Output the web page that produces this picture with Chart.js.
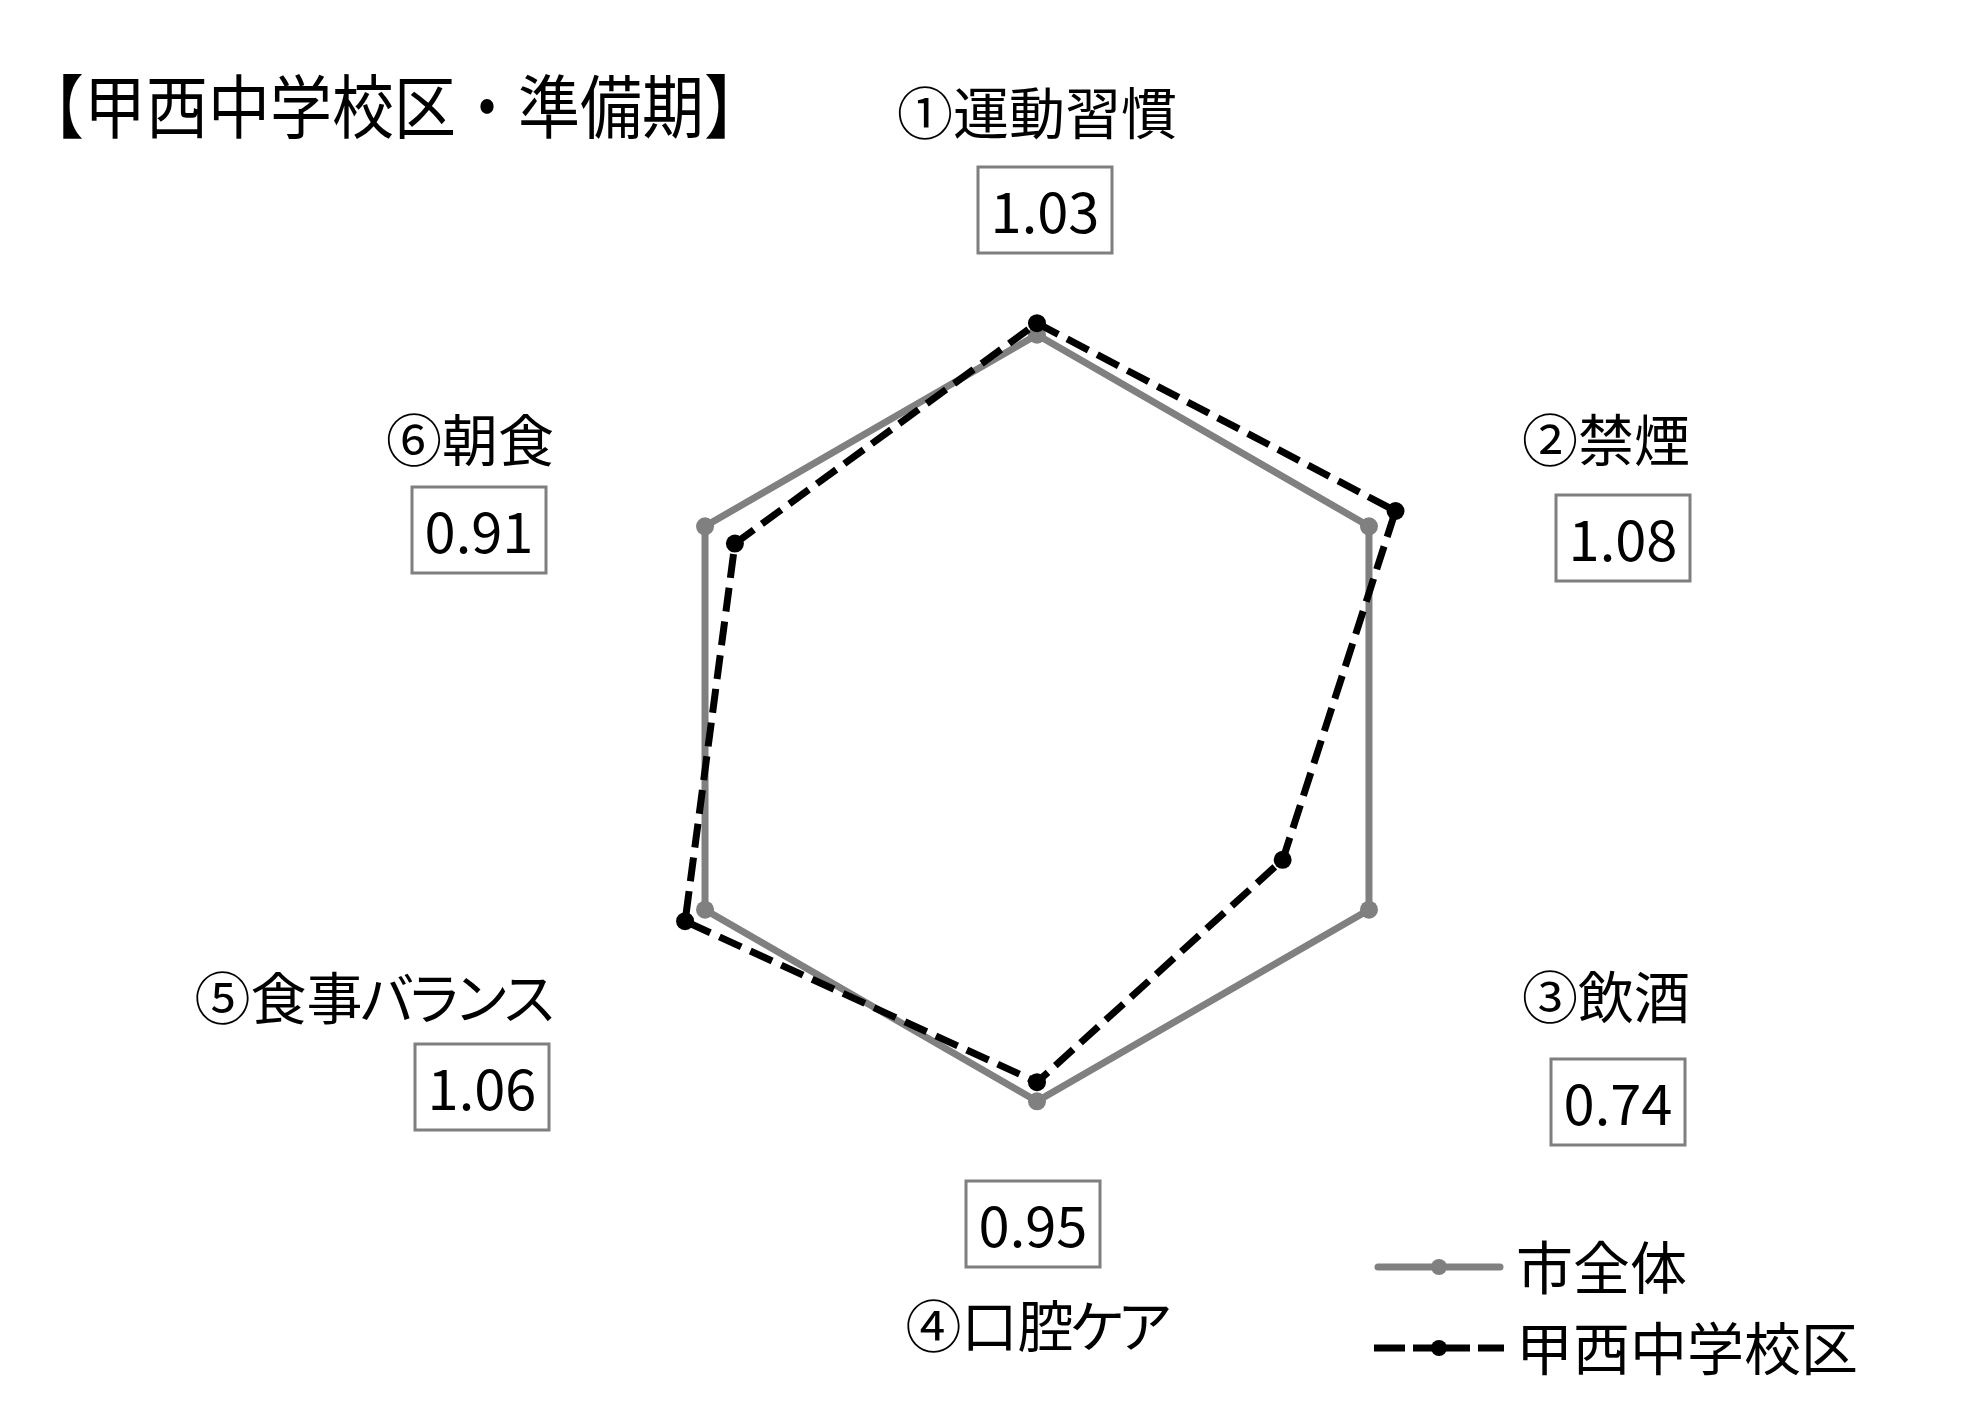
<!DOCTYPE html>
<html><head><meta charset="utf-8">
<script src="https://cdn.jsdelivr.net/npm/chart.js@4.4.0/dist/chart.umd.min.js"></script>
<style>html,body{margin:0;padding:0;background:#fff;overflow:hidden;} canvas{display:block;}</style>
</head><body>
<canvas id="c" width="1961" height="1417"></canvas>
<script>
// ---- data ----
const chartTitle = '【甲西中学校区・準備期】';
const categories = ['①運動習慣', '②禁煙', '③飲酒', '④口腔ケア', '⑤食事バランス', '⑥朝食'];
const seriesNames = ['市全体', '甲西中学校区'];
const cityValues = [1.00, 1.00, 1.00, 1.00, 1.00, 1.00];
const schoolValues = [1.03, 1.08, 0.74, 0.95, 1.06, 0.91];
const scaleMin = 0;
const scaleMax = 1.2;

// ---- layout (offsets relative to radar centre) ----
const labelLayout = [
  {lx: 0,    ly: -605, align: 'center', bx: 8,    by: -508},
  {lx: 485,  ly: -278, align: 'left',   bx: 586,  by: -180},
  {lx: 485,  ly: 279,  align: 'left',   bx: 581,  by: 384},
  {lx: 0,    ly: 608,  align: 'center', bx: -4,   by: 506},
  {lx: -484, ly: 280,  align: 'right',  bx: -555, by: 369},
  {lx: -483, ly: -278, align: 'right',  bx: -558, by: -188}
];
const FONT_JP = '"Noto Sans CJK JP", "Noto Sans", sans-serif';

function jpText(ctx, text, x, y, size, align, kana, vscale) {
  kana = kana || 0.85;
  vscale = vscale || 1;
  ctx.save();
  ctx.font = size + 'px ' + FONT_JP;
  const chars = Array.from(text);
  const adv = chars.map(ch => /[\u30A0-\u30FF]/.test(ch) ? size * kana : size);
  const total = adv.reduce((a, b) => a + b, 0);
  let sx = align === 'left' ? x : (align === 'right' ? x - total : x - total / 2);
  ctx.textAlign = 'center';
  ctx.textBaseline = 'middle';
  ctx.translate(0, y);
  ctx.scale(1, vscale);
  chars.forEach((ch, i) => { ctx.fillText(ch, sx + adv[i] / 2, 0); sx += adv[i]; });
  ctx.restore();
}

const overlay = {
  id: 'overlay',
  afterDraw(chart) {
    const ctx = chart.ctx;
    const sc = chart.scales.r;
    const cx = sc.xCenter, cy = sc.yCenter;
    ctx.save();
    ctx.fillStyle = '#000';
    // title
    jpText(ctx, chartTitle, 22, 107, 62, 'left', 1, 1.12);
    // category labels and value boxes
    categories.forEach((cat, i) => {
      const L = labelLayout[i];
      ctx.fillStyle = '#000';
      jpText(ctx, cat, cx + L.lx, cy + L.ly, 56, L.align);
      const bw = 134, bh = 86;
      const bxc = cx + L.bx, byc = cy + L.by;
      ctx.strokeStyle = '#7f7f7f';
      ctx.lineWidth = 3;
      ctx.setLineDash([]);
      ctx.strokeRect(bxc - bw / 2, byc - bh / 2, bw, bh);
      ctx.font = '56px ' + FONT_JP;
      ctx.textAlign = 'center';
      ctx.textBaseline = 'middle';
      ctx.fillStyle = '#000';
      ctx.fillText(schoolValues[i].toFixed(2), bxc, byc + 2);
    });
    // legend
    const ds = chart.data.datasets;
    const rows = [1267, 1348];
    const x0 = 1374, x1 = 1504, xm = 1439;
    [0, 1].forEach(k => {
      const d = ds[k];
      const y = rows[k];
      ctx.strokeStyle = d.borderColor;
      ctx.lineWidth = d.borderWidth;
      if (k === 0) {
        ctx.lineCap = 'round';
        ctx.beginPath(); ctx.moveTo(x0 + 4, y); ctx.lineTo(x1 - 4, y); ctx.stroke();
      } else {
        ctx.lineCap = 'butt';
        [[x0, 1405], [1413, 1470], [1478, x1]].forEach(s => {
          ctx.beginPath(); ctx.moveTo(s[0], y); ctx.lineTo(s[1], y); ctx.stroke();
        });
      }
      ctx.fillStyle = d.pointBackgroundColor;
      ctx.beginPath(); ctx.arc(xm, y, 8, 0, Math.PI * 2); ctx.fill();
      ctx.fillStyle = '#000';
      jpText(ctx, d.label, 1516, y, 57, 'left');
    });
    ctx.restore();
  }
};

new Chart(document.getElementById('c'), {
  type: 'radar',
  data: {
    labels: categories,
    datasets: [
      {
        label: seriesNames[0], data: cityValues,
        borderColor: '#808080', backgroundColor: 'rgba(0,0,0,0)',
        pointBackgroundColor: '#808080', pointBorderColor: '#808080',
        borderWidth: 7, pointRadius: 9, pointBorderWidth: 0,
        borderJoinStyle: 'round', fill: false, order: 2
      },
      {
        label: seriesNames[1], data: schoolValues,
        borderColor: '#000000', backgroundColor: 'rgba(0,0,0,0)',
        pointBackgroundColor: '#000000', pointBorderColor: '#000000',
        borderWidth: 7, borderDash: [24, 10], pointRadius: 9, pointBorderWidth: 0,
        borderJoinStyle: 'round', fill: false, order: 1
      }
    ]
  },
  options: {
    responsive: false,
    devicePixelRatio: 1,
    animation: false,
    layout: {padding: {left: 577, right: 464, top: 258, bottom: 239}},
    plugins: {legend: {display: false}, title: {display: false}, tooltip: {enabled: false}},
    scales: {
      r: {
        min: scaleMin, max: scaleMax,
        ticks: {display: false},
        grid: {display: false},
        angleLines: {display: false},
        pointLabels: {display: false}
      }
    },
    elements: {line: {tension: 0}}
  },
  plugins: [overlay]
});
</script>
</body></html>
